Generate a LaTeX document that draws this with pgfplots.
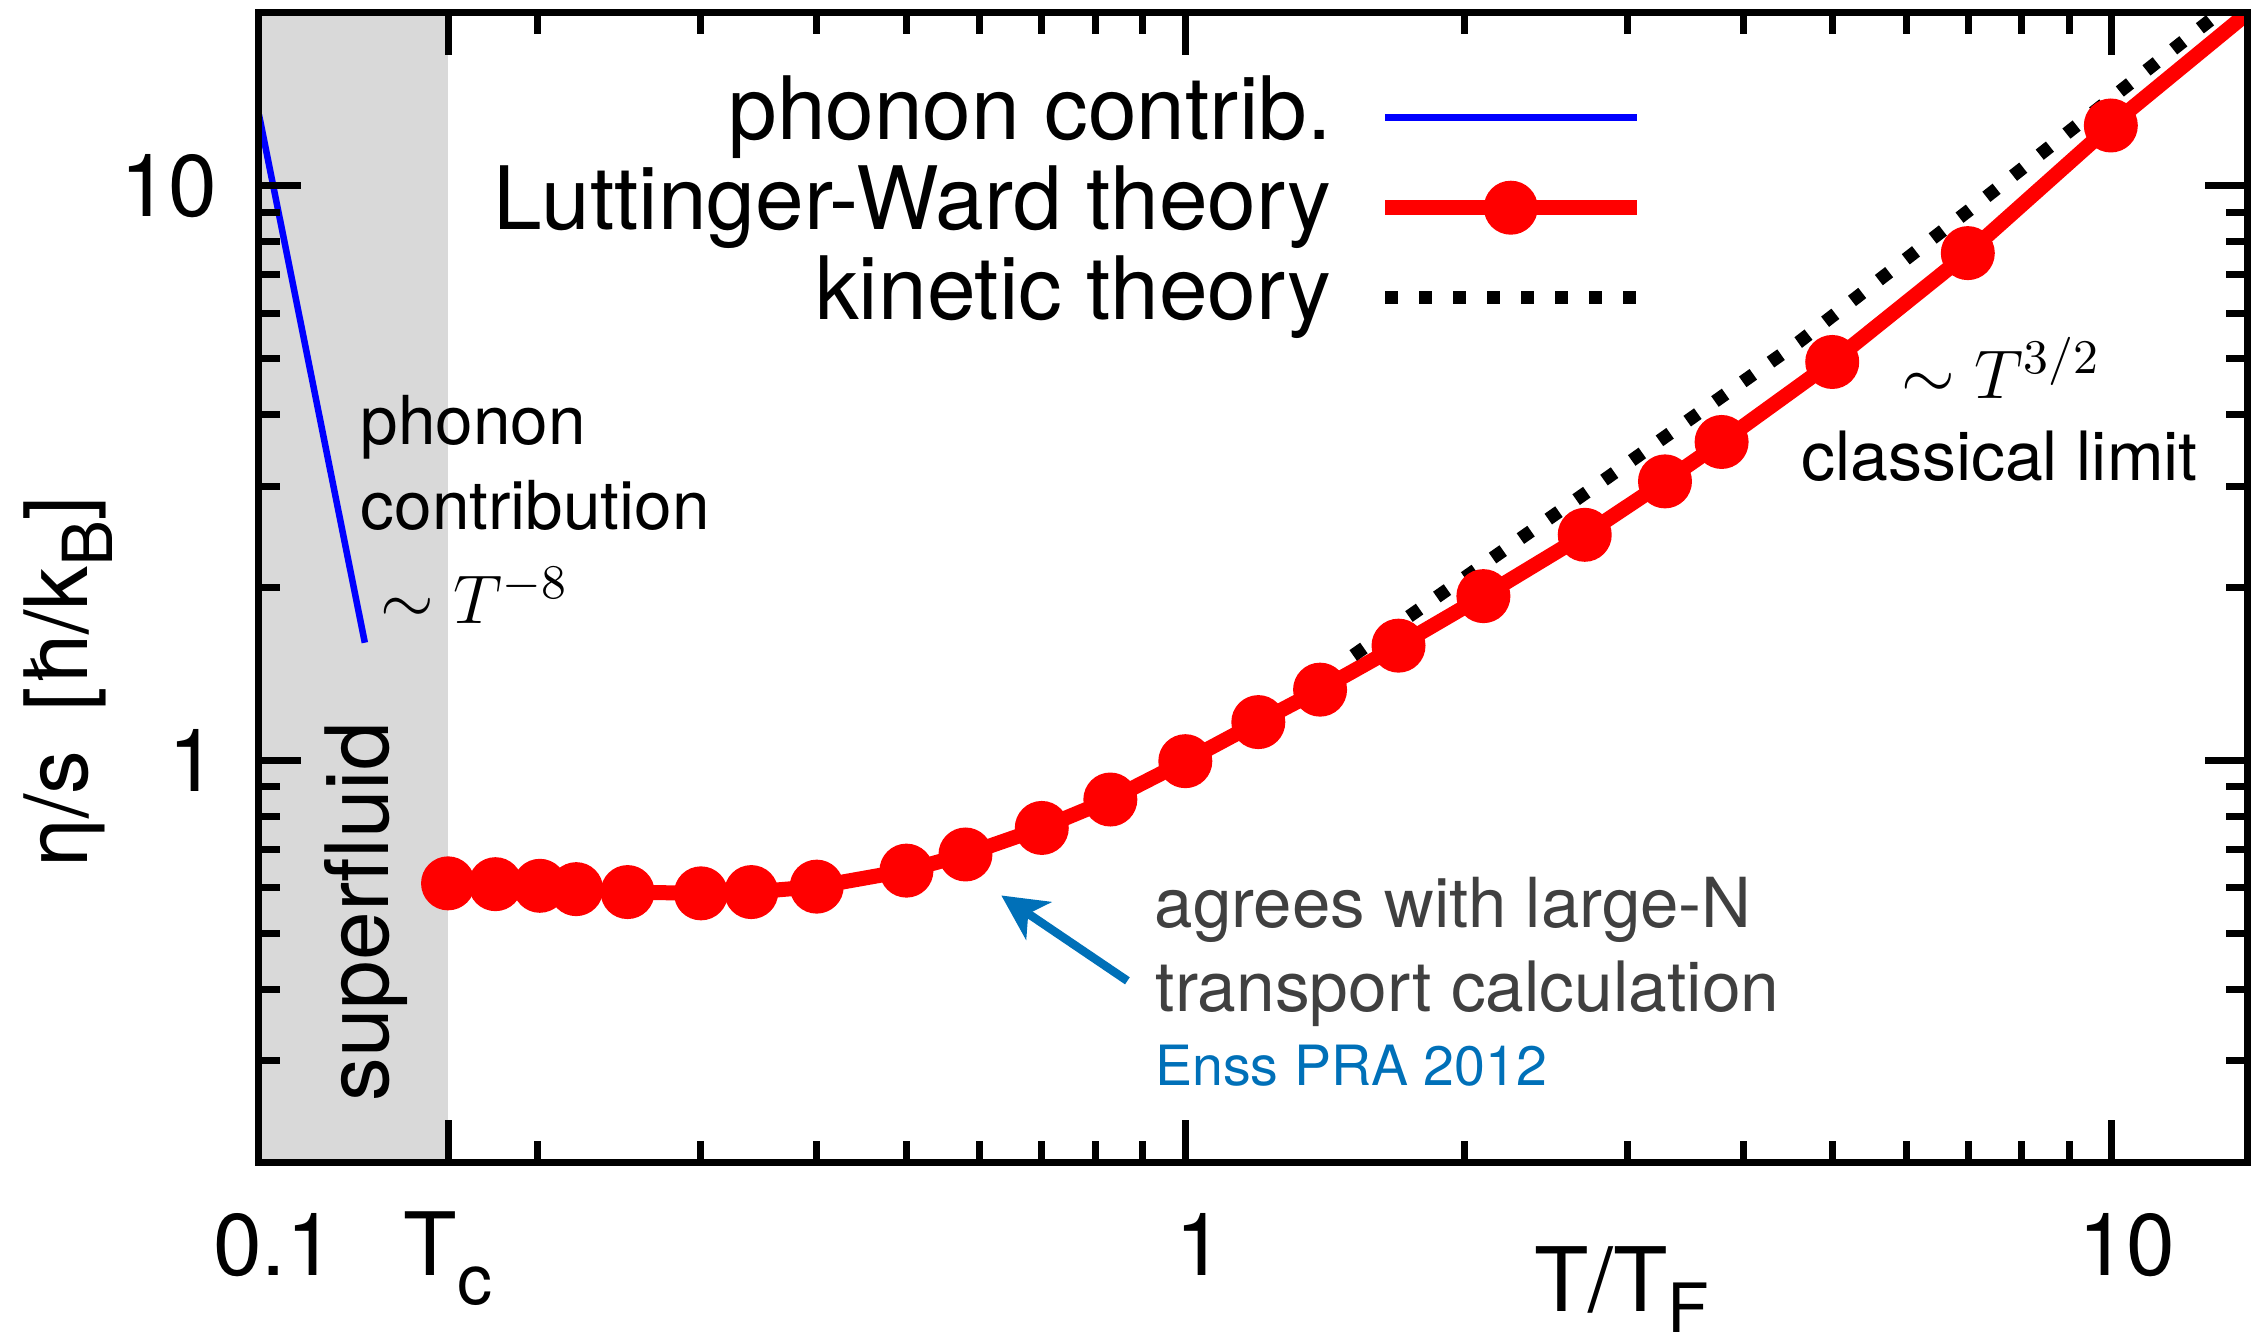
\RequirePackage{fix-cm}
\documentclass[border=0pt]{standalone}
\usepackage{fontspec}
\setmainfont{TeX Gyre Heros}
\usepackage{pgfplots}
\pgfplotsset{compat=1.18}
\usetikzlibrary{arrows.meta}
\definecolor{shade}{RGB}{217,217,217}
\definecolor{arrowblue}{RGB}{0,112,184}
\definecolor{txtgray}{RGB}{64,64,64}
\newcommand{\fs}[1]{\fontsize{#1}{#1}\selectfont}
\tikzset{ann/.style={anchor=base west, inner sep=0pt}}

\begin{document}
\begin{tikzpicture}
\begin{axis}[
  xmode=log, ymode=log,
  scale only axis, width=397.6pt, height=229.8pt,
  xmin=0.1, xmax=14, ymin=0.2, ymax=20,
  axis on top,
  axis line style={line width=1.4pt},
  tick style={line width=1.4pt, black},
  major tick length=8.4pt, minor tick length=4.2pt,
  /pgf/number format/assume math mode=true,
  xtick={0.1,0.16,1,10},
  xticklabels={0.1,{T\raisebox{-5.8pt}{\fs{14}c}\hspace*{6pt}},1,10},
  minor xtick={0.2,0.3,0.4,0.5,0.6,0.7,0.8,0.9,2,3,4,5,6,7,8,9},
  ytick={1,10}, yticklabels={1,10},
  minor ytick={0.3,0.4,0.5,0.6,0.7,0.8,0.9,2,3,4,5,6,7,8,9},
  tick label style={font=\fs{17.5}},
  xticklabel style={anchor=base, yshift=-22.6pt, xshift=3pt},
  yticklabel style={xshift=-4.8pt},
  xlabel={T/T\raisebox{-4.3pt}{\fs{13.6}F}},
  xlabel style={at={(axis description cs:0.6856,-0.1300)}, anchor=base, font=\fs{17.8}, inner sep=0pt},
  ylabel={η/s\hspace{0.45em}[ħ/k\raisebox{-5pt}{\fs{13.8}B}]},
  ylabel style={at={(axis description cs:-0.0862,0.4180)}, anchor=base, font=\fs{17.5}, inner sep=0pt},
  legend style={draw=none, fill=none, at={(axis description cs:0.6972,0.9452)}, anchor=north east,
    font=\fs{17.5}, inner sep=0pt, row sep=1.7pt, column sep=9.2pt,
    nodes={inner sep=0pt, text height=12.6pt, text depth=3.7pt}},
  legend cell align=right, legend plot pos=right,
  legend image code/.code={\draw[mark repeat=2,mark phase=2] plot coordinates {(0pt,0pt) (25.15pt,0pt) (50.3pt,0pt)};},
]
\addplot[fill=shade, draw=none, forget plot] coordinates {(0.1,0.2) (0.16,0.2) (0.16,20) (0.1,20)};

\addplot[color=blue, line width=1.3pt] coordinates {(0.1,13.3) (0.1301,1.603)};
\addlegendentry{phonon contrib.}

\addplot[color=red, line width=3pt, mark=*, mark size=5.2pt,
  mark options={solid, fill=red, draw=red, line width=0.4pt}] coordinates {
(0.160,0.611) (0.180,0.609) (0.201,0.605) (0.220,0.597) (0.250,0.590)
(0.300,0.587) (0.340,0.590) (0.400,0.603) (0.500,0.643) (0.579,0.686)
(0.700,0.763) (0.830,0.855) (1.000,0.997) (1.199,1.166) (1.398,1.328)
(1.699,1.584) (2.098,1.932) (2.699,2.470) (3.295,3.060) (3.793,3.584)
(4.993,4.938) (6.995,7.640) (9.980,12.74) (20,32)};
\addlegendentry{Luttinger-Ward theory}

\addplot[color=black, line width=2.6pt, dash pattern=on 2.6pt off 4.2pt] coordinates {
(1.518,1.523) (2.797,3.033) (4.597,5.35) (7.27,9.48) (12.31,18.54) (14.5,22.8)};
\addlegendentry{kinetic theory}

\node[ann, font=\fs{13.5}] at (axis cs:0.1285,3.55) {phonon};
\node[ann, font=\fs{13.5}] at (axis cs:0.1285,2.52) {contribution};
\node[ann, font=\fs{13.8}] at (axis cs:0.135,1.734) {$\sim T^{-8}$};
\node[ann, font=\fs{17.5}, rotate=90] at (axis cs:0.1381,0.2538) {superfluid};
\node[ann, font=\fs{13.8}] at (axis cs:5.92,4.26) {$\sim T^{3/2}$};
\node[ann, font=\fs{13.6}] at (axis cs:4.61,3.07) {classical limit};
\node[ann, font=\fs{13.8}, text=txtgray] at (axis cs:0.925,0.511) {agrees with large-N};
\node[ann, font=\fs{13.9}, text=txtgray] at (axis cs:0.927,0.3663) {transport calculation};
\node[ann, font=\fs{11.1}, text=arrowblue] at (axis cs:0.926,0.2715) {Enss PRA 2012};
\draw[arrowblue, line width=1.7pt, -{Stealth[length=9pt,width=9pt,inset=2.5pt]}]
  (axis cs:0.866,0.4134) -- (axis cs:0.633,0.582);

\coordinate (BL) at (rel axis cs:0,0);
\coordinate (TR) at (rel axis cs:1,1);
\end{axis}
\pgfresetboundingbox
\path ([shift={(-51.8pt,-36pt)}]BL) rectangle ([shift={(1.2pt,2.6pt)}]TR);
\end{tikzpicture}
\end{document}
